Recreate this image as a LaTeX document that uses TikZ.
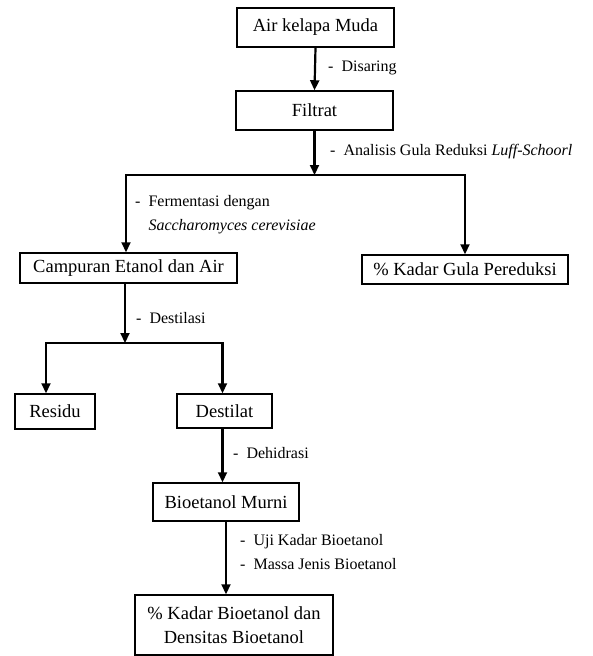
\documentclass[tikz,border=0pt]{standalone}
\usepackage{fontspec}
\setmainfont{Liberation Serif}
\usetikzlibrary{arrows.meta}
\tikzset{
  box/.style={draw, line width=1.5pt, inner sep=0pt, align=center,
    font=\fontsize{18.5}{24}\selectfont},
  arr/.style={line width=2.2pt, line join=miter,
    -{Triangle[length=10pt,width=9pt]}},
  note/.style={anchor=west, inner sep=0pt, align=left,
    font=\fontsize{16}{24}\selectfont}
}
\begin{document}
\begin{tikzpicture}[x=1pt,y=-1pt]
\useasboundingbox (0,0) rectangle (592,656);
% Boxes
\node[box, minimum width=157pt, minimum height=39pt] (air) at (315.5,27.5) {Air kelapa Muda};
\node[box, minimum width=157pt, minimum height=39pt] (filtrat) at (314.5,110.5) {Filtrat};
\node[box, minimum width=217pt, minimum height=30pt] (campuran) at (128.5,268) {Campuran Etanol dan Air};
\node[box, minimum width=206pt, minimum height=29pt] (gula) at (465,269.5) {\% Kadar Gula Pereduksi};
\node[box, minimum width=80pt, minimum height=35pt] (residu) at (55,411.5) {Residu};
\node[box, minimum width=95pt, minimum height=34pt] (destilat) at (224.5,411) {Destilat};
\node[box, minimum width=146pt, minimum height=38pt] (murni) at (226,502) {Bioetanol Murni};
\node[box, minimum width=198pt, minimum height=60pt] (hasil) at (234,625) {\% Kadar Bioetanol dan\\Densitas Bioetanol};
% Branch points
\coordinate (s1) at (314.5,175);
\coordinate (s2) at (125,343);
% Process notes
\node[note] (disaring) at (328,68) {-\ \ Disaring};
\node[note] (analisis) at (330,152) {-\ \ Analisis Gula Reduksi \textit{Luff-Schoorl}};
\node[note] (fermentasi) at (135,215) {-\ \ Fermentasi dengan\\\phantom{-\ \ }\textit{Saccharomyces cerevisiae}};
\node[note] (destilasi) at (136,318) {-\ \ Destilasi};
\node[note] (dehidrasi) at (233,453) {-\ \ Dehidrasi};
\node[note] (uji) at (240,552) {-\ \ Uji Kadar Bioetanol\\-\ \ Massa Jenis Bioetanol};
% Arrows
\draw[arr] (air.south) -- (filtrat.north);
\draw[arr] (filtrat.south) -- (s1);
\draw[arr] (s1) -| ([xshift=-2.5pt]campuran.north);
\draw[arr] (s1) -| (gula.north);
\draw[arr] ([xshift=-3.5pt]campuran.south) -- (s2);
\draw[arr] (s2) -| ([xshift=-9pt]residu.north);
\draw[arr] (s2) -| ([xshift=-2pt]destilat.north);
\draw[arr] ([xshift=-2pt]destilat.south) -- ([xshift=-2pt]destilat.south |- murni.north);
\draw[arr] (murni.south) -- (murni.south |- hasil.north);
\end{tikzpicture}
\end{document}
